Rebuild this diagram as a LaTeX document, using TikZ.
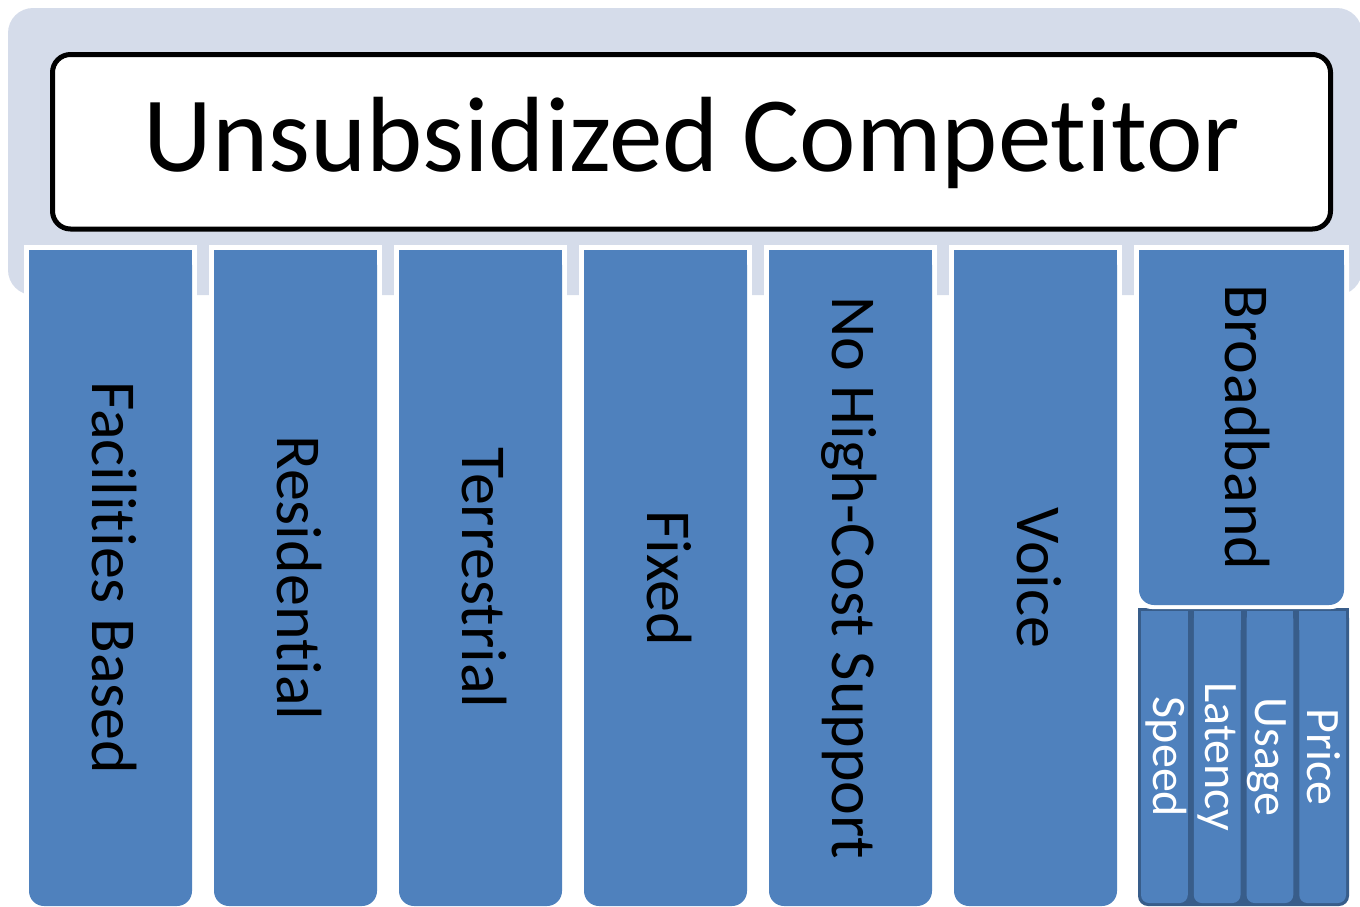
\documentclass[tikz,border=0pt]{standalone}
\usepackage{fontspec}
\setmainfont{Carlito}[Ligatures={NoCommon,NoContextual}]
\newcommand\nolig{\kern0pt{}}
\definecolor{colblue}{HTML}{4F81BD}
\definecolor{coldark}{HTML}{385D8A}
\definecolor{bglight}{HTML}{D5DCEA}
\newcommand\mycolumn[2]{%
  \fill[white] (#1-5,245) rectangle (#2+5,906);
  \fill[colblue, rounded corners=15pt] (#1,250) rectangle (#2,906);
  \fill[colblue] (#1,250) rectangle (#2,290);
}
\newcommand\mysubcol[2]{%
  \fill[colblue, rounded corners=8pt] (#1+3,611) rectangle (#2-3,903);
  \fill[colblue] (#1+3,611) rectangle (#2-3,630);
}
\tikzset{
  coltext/.style={font=\fontsize{64}{64}\selectfont, text=black, anchor=base, rotate=-90, inner sep=0pt},
  subtext/.style={font=\fontsize{48}{48}\selectfont, text=white, anchor=base, rotate=-90, inner sep=0pt},
  titletext/.style={font=\fontsize{107}{107}\selectfont, text=black, anchor=base, inner sep=0pt}
}
\begin{document}
\begin{tikzpicture}[x=1pt,y=-1pt]
\useasboundingbox (0,0) rectangle (1360,906);
% light background
\fill[bglight, rounded corners=25pt] (8,8) rectangle (1362,295);
% title box
\draw[line width=5pt, fill=white, rounded corners=18pt] (52.5,54.5) rectangle (1330.5,229);
\node[titletext] (title) at (692,171) {Unsubsidized Compet\nolig itor};
% main columns
\mycolumn{29}{192}
\mycolumn{214}{377}
\mycolumn{399}{562}
\mycolumn{584}{747}
\mycolumn{769}{932}
\mycolumn{954}{1117}
% broadband sub columns
\fill[coldark, rounded corners=10pt] (1138,608) rectangle (1349,906);
\fill[coldark] (1138,608) rectangle (1349,630);
\mysubcol{1138}{1190.75}
\mysubcol{1190.75}{1243.5}
\mysubcol{1243.5}{1296.25}
\mysubcol{1296.25}{1349}
% broadband box
\fill[white, rounded corners=18pt] (1134,245) rectangle (1349,609);
\fill[white] (1134,245) rectangle (1349,290);
\fill[colblue, rounded corners=15pt] (1139,250) rectangle (1344,605);
\fill[colblue] (1139,250) rectangle (1344,290);
% texts
\node[coltext] (c1) at (92,578) {Facilit\nolig ies Based};
\node[coltext] (c2) at (277,578) {Resident\nolig ial};
\node[coltext] (c3) at (462,578) {Terrest\nolig rial};
\node[coltext] (c4) at (647,578) {Fixed};
\node[coltext] (c5) at (832,578) {No High-Cost Support};
\node[coltext] (c6) at (1017,578) {Voice};
\node[coltext] (c7) at (1225,427.5) {Broadband};
\node[subtext] (s1) at (1153,757) {Speed};
\node[subtext] (s2) at (1205,757) {Latency};
\node[subtext] (s3) at (1255,757) {Usage};
\node[subtext] (s4) at (1307,757) {Price};
\end{tikzpicture}
\end{document}
